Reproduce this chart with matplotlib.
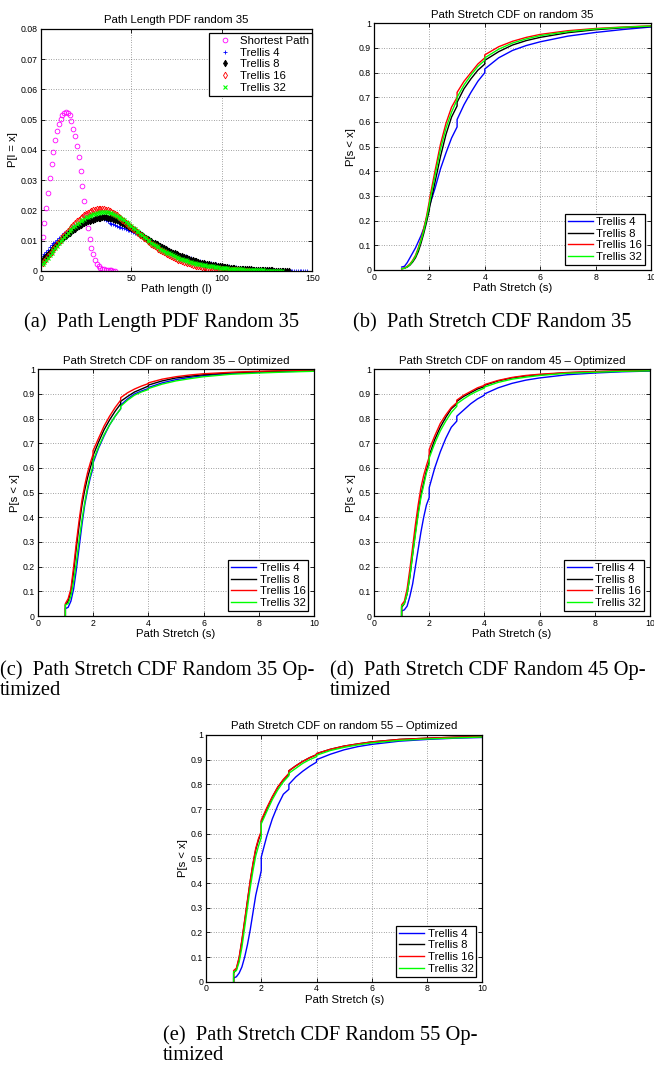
import numpy as np
import matplotlib.pyplot as plt

plt.rcParams['font.family'] = ['Liberation Sans', 'DejaVu Sans']

W, H = 654, 1070

# ---- (a) path length PDF, one value per path length 1, 2, 3, ... ----
shortest_pdf = [
    0.0111, 0.0159, 0.0209, 0.0259, 0.0309, 0.0354, 0.0395, 0.0432, 0.0462, 0.0486,
    0.0504, 0.0515, 0.0522, 0.0524, 0.0522, 0.0517, 0.0497, 0.0470, 0.0446, 0.0412,
    0.0376, 0.0330, 0.0280, 0.0230, 0.0185, 0.0143, 0.0105, 0.0075, 0.0055, 0.0037,
    0.0024, 0.0015, 0.0010, 0.0007, 0.0005, 0.0004, 0.0003, 0.0002, 0.0002, 0.0001,
    0.0001,
]
trellis4_pdf = [
    0.0050, 0.0057, 0.0064, 0.0071, 0.0078, 0.0085, 0.0091, 0.0097, 0.0103, 0.0109,
    0.0114, 0.0119, 0.0124, 0.0128, 0.0132, 0.0136, 0.0140, 0.0144, 0.0148, 0.0151,
    0.0154, 0.0157, 0.0160, 0.0163, 0.0165, 0.0167, 0.0169, 0.0171, 0.0172, 0.0173,
    0.0174, 0.0175, 0.0175, 0.0174, 0.0171, 0.0168, 0.0164, 0.0160, 0.0157, 0.0154,
    0.0151, 0.0149, 0.0147, 0.0145, 0.0143, 0.0141, 0.0139, 0.0137, 0.0135, 0.0133,
    0.0130, 0.0127, 0.0124, 0.0121, 0.0118, 0.0115, 0.0112, 0.0109, 0.0106, 0.0103,
    0.0100, 0.0097, 0.0094, 0.0091, 0.0088, 0.0085, 0.0082, 0.0079, 0.0076, 0.0073,
    0.0070, 0.0067, 0.0064, 0.0061, 0.0058, 0.0056, 0.0054, 0.0052, 0.0050, 0.0048,
    0.0046, 0.0044, 0.0042, 0.0040, 0.0038, 0.0036, 0.0034, 0.0032, 0.0030, 0.0029,
    0.0028, 0.0027, 0.0026, 0.0025, 0.0024, 0.0023, 0.0022, 0.0021, 0.0020, 0.0019,
    0.0018, 0.0017, 0.0016, 0.0015, 0.0014, 0.0013, 0.0012, 0.0012, 0.0011, 0.0011,
    0.0010, 0.0010, 0.0009, 0.0009, 0.0008, 0.0008, 0.0007, 0.0007, 0.0006, 0.0006,
    0.0005, 0.0005, 0.0005, 0.0004, 0.0004, 0.0004, 0.0003, 0.0003, 0.0003, 0.0003,
    0.0002, 0.0002, 0.0002, 0.0002, 0.0002, 0.0001, 0.0001, 0.0001, 0.0001, 0.0001,
    0.0001, 0.0001, 0.0001, 0.0001, 0.0001, 0.0001, 0.0001,
]
trellis8_pdf = [
    0.0035, 0.0042, 0.0049, 0.0056, 0.0063, 0.0070, 0.0077, 0.0084, 0.0090, 0.0096,
    0.0102, 0.0107, 0.0112, 0.0117, 0.0122, 0.0127, 0.0132, 0.0136, 0.0140, 0.0144,
    0.0148, 0.0152, 0.0155, 0.0158, 0.0161, 0.0164, 0.0166, 0.0168, 0.0170, 0.0172,
    0.0174, 0.0175, 0.0176, 0.0177, 0.0177, 0.0177, 0.0176, 0.0175, 0.0174, 0.0172,
    0.0170, 0.0168, 0.0165, 0.0162, 0.0159, 0.0156, 0.0153, 0.0150, 0.0146, 0.0142,
    0.0138, 0.0134, 0.0130, 0.0126, 0.0122, 0.0118, 0.0114, 0.0110, 0.0106, 0.0102,
    0.0098, 0.0094, 0.0091, 0.0088, 0.0085, 0.0082, 0.0079, 0.0076, 0.0073, 0.0070,
    0.0067, 0.0064, 0.0061, 0.0058, 0.0055, 0.0052, 0.0050, 0.0048, 0.0046, 0.0044,
    0.0042, 0.0040, 0.0038, 0.0036, 0.0034, 0.0032, 0.0030, 0.0028, 0.0026, 0.0025,
    0.0024, 0.0023, 0.0022, 0.0021, 0.0020, 0.0019, 0.0018, 0.0017, 0.0016, 0.0015,
    0.0014, 0.0013, 0.0012, 0.0011, 0.0010, 0.0009, 0.0009, 0.0008, 0.0008, 0.0007,
    0.0007, 0.0006, 0.0006, 0.0005, 0.0005, 0.0005, 0.0004, 0.0004, 0.0004, 0.0003,
    0.0003, 0.0003, 0.0003, 0.0002, 0.0002, 0.0002, 0.0002, 0.0002, 0.0001, 0.0001,
    0.0001, 0.0001, 0.0001, 0.0001, 0.0001, 0.0001, 0.0001,
]
trellis16_pdf = [
    0.0025, 0.0032, 0.0040, 0.0048, 0.0056, 0.0064, 0.0072, 0.0080, 0.0088, 0.0096,
    0.0104, 0.0111, 0.0118, 0.0125, 0.0132, 0.0139, 0.0146, 0.0152, 0.0158, 0.0164,
    0.0170, 0.0175, 0.0180, 0.0184, 0.0188, 0.0192, 0.0195, 0.0198, 0.0200, 0.0202,
    0.0204, 0.0205, 0.0205, 0.0205, 0.0204, 0.0203, 0.0201, 0.0199, 0.0196, 0.0193,
    0.0189, 0.0185, 0.0180, 0.0175, 0.0170, 0.0165, 0.0160, 0.0155, 0.0150, 0.0145,
    0.0140, 0.0135, 0.0130, 0.0125, 0.0120, 0.0115, 0.0110, 0.0105, 0.0100, 0.0095,
    0.0090, 0.0086, 0.0082, 0.0078, 0.0074, 0.0070, 0.0066, 0.0062, 0.0058, 0.0055,
    0.0052, 0.0049, 0.0046, 0.0043, 0.0040, 0.0037, 0.0035, 0.0033, 0.0031, 0.0029,
    0.0027, 0.0025, 0.0023, 0.0021, 0.0019, 0.0017, 0.0016, 0.0015, 0.0014, 0.0013,
    0.0012, 0.0011, 0.0010, 0.0009, 0.0008, 0.0007, 0.0007, 0.0006, 0.0005, 0.0005,
    0.0004, 0.0004, 0.0003, 0.0003, 0.0003, 0.0002, 0.0002, 0.0002, 0.0002, 0.0001,
    0.0001, 0.0001, 0.0001, 0.0001, 0.0001,
]
trellis32_pdf = [
    0.0022, 0.0029, 0.0036, 0.0044, 0.0052, 0.0060, 0.0068, 0.0076, 0.0084, 0.0091,
    0.0098, 0.0105, 0.0112, 0.0119, 0.0126, 0.0132, 0.0138, 0.0144, 0.0150, 0.0155,
    0.0160, 0.0165, 0.0169, 0.0173, 0.0177, 0.0180, 0.0183, 0.0186, 0.0188, 0.0190,
    0.0192, 0.0193, 0.0194, 0.0195, 0.0195, 0.0195, 0.0194, 0.0193, 0.0191, 0.0189,
    0.0186, 0.0183, 0.0179, 0.0175, 0.0171, 0.0167, 0.0163, 0.0158, 0.0153, 0.0148,
    0.0143, 0.0138, 0.0133, 0.0128, 0.0123, 0.0118, 0.0113, 0.0108, 0.0103, 0.0098,
    0.0094, 0.0090, 0.0086, 0.0082, 0.0078, 0.0074, 0.0070, 0.0067, 0.0064, 0.0061,
    0.0058, 0.0055, 0.0052, 0.0049, 0.0046, 0.0043, 0.0041, 0.0039, 0.0037, 0.0035,
    0.0033, 0.0031, 0.0029, 0.0027, 0.0025, 0.0024, 0.0023, 0.0022, 0.0021, 0.0020,
    0.0019, 0.0018, 0.0017, 0.0016, 0.0015, 0.0014, 0.0013, 0.0012, 0.0011, 0.0010,
    0.0010, 0.0009, 0.0009, 0.0008, 0.0008, 0.0007, 0.0007, 0.0006, 0.0006, 0.0005,
    0.0005, 0.0004, 0.0004, 0.0004, 0.0003, 0.0003, 0.0003, 0.0003, 0.0002, 0.0002,
    0.0002, 0.0002, 0.0002, 0.0001, 0.0001, 0.0001, 0.0001, 0.0001, 0.0001, 0.0001,
    0.0001, 0.0001, 0.0001,
]

# ---- (b)-(e) path stretch CDFs, sampled on one stretch grid ----
# repeated x values are the small jumps at integer stretch
stretch = [1, 1, 1.1, 1.2, 1.3, 1.4, 1.5, 1.6, 1.7, 1.8, 1.9, 2, 2, 2.2, 2.4, 2.6,
           2.8, 3, 3, 3.25, 3.5, 3.75, 4, 4, 4.5, 5, 5.5, 6, 7, 8, 9, 10]

# (b) random 35
b_t4 = [0.012, 0.012, 0.015, 0.030, 0.050, 0.070, 0.090, 0.115, 0.140, 0.170, 0.210,
        0.255, 0.260, 0.330, 0.410, 0.475, 0.535, 0.580, 0.610, 0.670, 0.720, 0.765,
        0.800, 0.815, 0.860, 0.890, 0.910, 0.925, 0.948, 0.963, 0.975, 0.985]
b_t8 = [0.005, 0.005, 0.007, 0.012, 0.020, 0.033, 0.050, 0.075, 0.110, 0.150, 0.195,
        0.245, 0.250, 0.355, 0.460, 0.550, 0.620, 0.665, 0.680, 0.735, 0.775, 0.810,
        0.835, 0.850, 0.885, 0.912, 0.930, 0.943, 0.962, 0.974, 0.982, 0.987]
b_t16 = [0.005, 0.005, 0.008, 0.015, 0.025, 0.040, 0.060, 0.090, 0.125, 0.170, 0.220,
         0.280, 0.285, 0.400, 0.510, 0.595, 0.660, 0.700, 0.720, 0.765, 0.800, 0.835,
         0.860, 0.872, 0.905, 0.927, 0.943, 0.955, 0.970, 0.979, 0.985, 0.990]
b_t32 = [0.005, 0.005, 0.007, 0.013, 0.022, 0.037, 0.056, 0.085, 0.120, 0.160, 0.210,
         0.265, 0.270, 0.380, 0.490, 0.575, 0.640, 0.690, 0.700, 0.750, 0.790, 0.825,
         0.850, 0.860, 0.895, 0.920, 0.937, 0.950, 0.966, 0.977, 0.984, 0.989]

# (c) random 35 optimized
c_t4 = [0, 0.030, 0.035, 0.060, 0.110, 0.190, 0.280, 0.370, 0.450, 0.510, 0.560,
        0.600, 0.620, 0.680, 0.730, 0.775, 0.810, 0.840, 0.855, 0.880, 0.900, 0.912,
        0.922, 0.926, 0.945, 0.958, 0.967, 0.974, 0.983, 0.988, 0.991, 0.993]
c_t8 = [0, 0.045, 0.060, 0.100, 0.180, 0.280, 0.370, 0.450, 0.510, 0.560, 0.600,
        0.640, 0.650, 0.705, 0.755, 0.795, 0.830, 0.860, 0.870, 0.890, 0.908, 0.920,
        0.932, 0.936, 0.953, 0.965, 0.972, 0.978, 0.986, 0.990, 0.993, 0.995]
c_t16 = [0, 0.050, 0.070, 0.110, 0.200, 0.300, 0.390, 0.470, 0.530, 0.580, 0.620,
         0.655, 0.670, 0.720, 0.770, 0.810, 0.845, 0.875, 0.885, 0.905, 0.920, 0.932,
         0.942, 0.945, 0.960, 0.970, 0.977, 0.982, 0.988, 0.992, 0.995, 0.997]
c_t32 = [0, 0.045, 0.050, 0.080, 0.140, 0.220, 0.310, 0.390, 0.460, 0.520, 0.570,
         0.610, 0.630, 0.685, 0.735, 0.775, 0.810, 0.840, 0.850, 0.875, 0.895, 0.908,
         0.918, 0.922, 0.940, 0.953, 0.962, 0.970, 0.980, 0.985, 0.989, 0.992]

# (d) random 45 optimized
d_t4 = [0, 0.020, 0.025, 0.040, 0.080, 0.130, 0.200, 0.270, 0.340, 0.400, 0.450,
        0.480, 0.520, 0.600, 0.665, 0.720, 0.765, 0.790, 0.810, 0.835, 0.860, 0.880,
        0.895, 0.900, 0.925, 0.943, 0.956, 0.965, 0.978, 0.985, 0.990, 0.993]
d_t8 = [0, 0.035, 0.050, 0.090, 0.160, 0.250, 0.340, 0.420, 0.490, 0.540, 0.590,
        0.625, 0.650, 0.715, 0.765, 0.805, 0.840, 0.860, 0.870, 0.890, 0.905, 0.920,
        0.930, 0.935, 0.953, 0.965, 0.973, 0.978, 0.986, 0.990, 0.993, 0.995]
d_t16 = [0, 0.045, 0.060, 0.110, 0.190, 0.280, 0.370, 0.450, 0.520, 0.570, 0.610,
         0.645, 0.675, 0.730, 0.780, 0.815, 0.845, 0.865, 0.875, 0.895, 0.910, 0.925,
         0.935, 0.938, 0.955, 0.967, 0.975, 0.980, 0.987, 0.991, 0.994, 0.996]
d_t32 = [0, 0.040, 0.050, 0.090, 0.160, 0.250, 0.330, 0.410, 0.480, 0.530, 0.580,
         0.615, 0.640, 0.700, 0.750, 0.790, 0.825, 0.850, 0.860, 0.880, 0.898, 0.912,
         0.924, 0.928, 0.947, 0.960, 0.968, 0.975, 0.984, 0.988, 0.992, 0.994]

# (e) random 55 optimized
e_t4 = [0, 0.015, 0.020, 0.035, 0.060, 0.100, 0.150, 0.210, 0.280, 0.350, 0.400,
        0.450, 0.505, 0.590, 0.660, 0.715, 0.760, 0.780, 0.800, 0.830, 0.853, 0.873,
        0.890, 0.900, 0.922, 0.940, 0.953, 0.962, 0.975, 0.982, 0.987, 0.990]
e_t8 = [0, 0.035, 0.050, 0.095, 0.165, 0.245, 0.325, 0.405, 0.475, 0.535, 0.575,
        0.605, 0.650, 0.700, 0.748, 0.788, 0.818, 0.840, 0.855, 0.875, 0.893, 0.908,
        0.920, 0.924, 0.942, 0.955, 0.964, 0.972, 0.982, 0.987, 0.991, 0.994]
e_t16 = [0, 0.045, 0.055, 0.100, 0.170, 0.250, 0.330, 0.410, 0.480, 0.540, 0.580,
         0.610, 0.655, 0.705, 0.750, 0.790, 0.820, 0.845, 0.855, 0.875, 0.893, 0.908,
         0.920, 0.925, 0.942, 0.955, 0.964, 0.972, 0.982, 0.987, 0.991, 0.994]
e_t32 = [0, 0.040, 0.045, 0.080, 0.140, 0.220, 0.300, 0.380, 0.450, 0.510, 0.550,
         0.585, 0.640, 0.690, 0.738, 0.778, 0.810, 0.835, 0.845, 0.865, 0.885, 0.900,
         0.912, 0.918, 0.937, 0.950, 0.960, 0.968, 0.978, 0.984, 0.988, 0.992]

trellis_labels = ['Trellis 4', 'Trellis 8', 'Trellis 16', 'Trellis 32']
trellis_colors = ['#0000ff', 'k', '#ff0000', '#00ff00']

FS = 8.2


fig = plt.figure(figsize=(W / 100, H / 100), dpi=100)


def px_axes(l, t, r, b):
    return fig.add_axes([l / W, 1 - b / H, (r - l) / W, (b - t) / H])


def style(ax, title, xlabel, ylabel):
    ax.set_title(title, fontsize=FS, pad=4)
    ax.set_xlabel(xlabel, fontsize=FS, labelpad=1)
    ax.set_ylabel(ylabel, fontsize=FS, labelpad=2)
    ax.tick_params(direction='in', top=True, right=True, length=3, width=0.6,
                   labelsize=6.3, pad=2)
    ax.grid(True, color='0.3', ls=(0, (1, 2.5)), lw=0.5)
    ax.set_axisbelow(True)
    for s in ax.spines.values():
        s.set_linewidth(0.9)


def box_legend(ax, loc, anchor, **kw):
    leg = ax.legend(loc=loc, bbox_to_anchor=anchor, fontsize=FS, fancybox=False,
                    edgecolor='k', framealpha=1, borderpad=0.25, labelspacing=0.15,
                    handlelength=2.2, handletextpad=0.3, borderaxespad=0, **kw)
    leg.get_frame().set_linewidth(0.9)
    return leg


# ---- (a) ----
ax = px_axes(40.7, 29, 312.3, 271)
mk = dict(ls='none', ms=3.4, mew=0.6)
ax.plot(np.arange(1, len(shortest_pdf) + 1), shortest_pdf, marker='o', color='#ff00ff',
        mfc='none', label='Shortest Path', **mk)
ax.plot(np.arange(1, len(trellis4_pdf) + 1), trellis4_pdf, marker='+', color='#0000ff',
        label='Trellis 4', **mk)
ax.plot(np.arange(1, len(trellis8_pdf) + 1), trellis8_pdf, marker='d', color='k',
        label='Trellis 8', **mk)
ax.plot(np.arange(1, len(trellis16_pdf) + 1), trellis16_pdf, marker='d', color='#ff0000',
        mfc='none', label='Trellis 16', **mk)
ax.plot(np.arange(1, len(trellis32_pdf) + 1), trellis32_pdf, marker='x', color='#00ff00',
        label='Trellis 32', ls='none', ms=3.0, mew=0.8)
ax.set_xlim(0, 150)
ax.set_ylim(0, 0.08)
ax.set_xticks([0, 50, 100, 150])
ax.set_yticks(np.arange(0, 0.081, 0.01))
ax.set_yticklabels(['0', '0.01', '0.02', '0.03', '0.04', '0.05', '0.06', '0.07', '0.08'])
style(ax, 'Path Length PDF random 35', 'Path length (l)', 'P[l = x]')
box_legend(ax, 'upper right', (1.0, 1 - 4 / 242), numpoints=1)


# ---- (b)-(e) ----
def cdf_panel(box, title, series):
    l, t, r, b = box
    ax = px_axes(l, t, r, b)
    for ys, lab, col in zip(series, trellis_labels, trellis_colors):
        ax.plot(stretch, ys, color=col, lw=1.0, label=lab)
    ax.set_xlim(0, 10)
    ax.set_ylim(0, 1)
    ax.set_xticks(range(0, 11, 2))
    ax.set_yticks(np.arange(0, 1.01, 0.1))
    ax.set_yticklabels(['0', '0.1', '0.2', '0.3', '0.4', '0.5', '0.6', '0.7', '0.8',
                        '0.9', '1'])
    style(ax, title, 'Path Stretch (s)', 'P[s < x]')
    box_legend(ax, 'lower right', (1 - 6 / (r - l), 5 / (b - t)))
    return ax


cdf_panel((374, 23.3, 651, 270), 'Path Stretch CDF on random 35',
          [b_t4, b_t8, b_t16, b_t32])
cdf_panel((37.7, 369.3, 314.3, 616), 'Path Stretch CDF on random 35 \u2013 Optimized',
          [c_t4, c_t8, c_t16, c_t32])
cdf_panel((374, 369.3, 650, 616), 'Path Stretch CDF on random 45 \u2013 Optimized',
          [d_t4, d_t8, d_t16, d_t32])
cdf_panel((206, 735, 482.3, 981.7), 'Path Stretch CDF on random 55 \u2013 Optimized',
          [e_t4, e_t8, e_t16, e_t32])


# ---- sub-captions ----
def caption(x, y, s, ha='left'):
    fig.text(x / W, 1 - y / H, s, ha=ha, va='baseline', fontsize=14.8,
             family=['Liberation Serif', 'DejaVu Serif'])


caption(162, 327, '(a)  Path Length PDF Random 35', ha='center')
caption(492, 327, '(b)  Path Stretch CDF Random 35', ha='center')
caption(0, 675, '(c)  Path Stretch CDF Random 35 Op-')
caption(0, 695, 'timized')
caption(330, 675, '(d)  Path Stretch CDF Random 45 Op-')
caption(330, 695, 'timized')
caption(163, 1040, '(e)  Path Stretch CDF Random 55 Op-')
caption(163, 1060, 'timized')

fig.savefig('out.png', dpi=100)
